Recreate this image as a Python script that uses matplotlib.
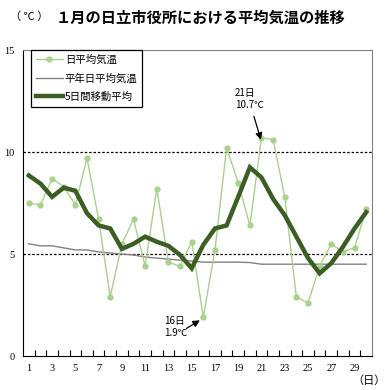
import matplotlib
matplotlib.use('Agg')
import matplotlib.pyplot as plt
import numpy as np

plt.rcParams['font.family'] = ['Noto Sans CJK JP', 'DejaVu Sans']

days = np.arange(1, 31)
daily = [7.5, 7.4, 8.7, 8.3, 7.4, 9.7, 6.7, 2.9, 5.5, 6.7,
         4.4, 8.2, 4.6, 4.4, 5.6, 1.9, 5.2, 10.2, 8.5, 6.4,
         10.7, 10.6, 7.8, 2.9, 2.6, 4.4, 5.5, 5.1, 5.3, 7.2]
normal = [5.5, 5.4, 5.4, 5.3, 5.2, 5.2, 5.1, 5.05, 5.0, 4.95,
          4.85, 4.8, 4.75, 4.7, 4.65, 4.6, 4.6, 4.6, 4.6, 4.58,
          4.5, 4.5, 4.5, 4.5, 4.5, 4.5, 4.5, 4.5, 4.5, 4.5]
moving = [8.85, 8.45, 7.8, 8.25, 8.1, 7.0, 6.4, 6.25, 5.25, 5.5,
          5.85, 5.6, 5.4, 4.95, 4.3, 5.45, 6.25, 6.4, 7.8, 9.25,
          8.75, 7.7, 6.9, 5.85, 4.8, 4.05, 4.55, 5.35, 6.25, 7.05]

fig = plt.figure(figsize=(3.9, 3.9), dpi=100)
ax = fig.add_axes([23 / 390, 1 - 356 / 390, 349 / 390, 306 / 390])

ax.plot(days, daily, color='#a9d18e', linewidth=1, marker='o', markersize=3.5,
        label='日平均気温', zorder=3)
ax.plot(days, normal, color='#808080', linewidth=1, label='平年日平均気温', zorder=2)
ax.plot(days, moving, color='#3b5e25', linewidth=3.2, label='5日間移動平均',
        zorder=4, solid_joinstyle='miter')

for yv in [5, 10]:
    ax.axhline(yv, color='black', linestyle=(0, (2, 1.5)), linewidth=0.9, zorder=1)

ax.set_xlim(0.5, 30.5)
ax.set_ylim(0, 15)

# tick marks at category boundaries, labels at odd days
ax.set_xticks(np.arange(1.5, 30.5, 1))
ax.set_xticklabels([])
ax.tick_params(axis='x', which='major', direction='in', length=4, width=0.8)
ax.set_xticks(days[::2], minor=True)
ax.set_xticklabels([str(d) for d in days[::2]], minor=True,
                   fontfamily='Liberation Serif', fontsize=7.5)
ax.tick_params(axis='x', which='minor', length=0, pad=6)

ax.set_yticks([0, 5, 10, 15])
ax.set_yticklabels(['0', '5', '10', '15'], fontfamily='Liberation Serif', fontsize=7.5)
ax.tick_params(axis='y', length=0, pad=6)

for side in ['top', 'right']:
    ax.spines[side].set_color('#808080')
for side in ['left', 'bottom']:
    ax.spines[side].set_color('black')

leg = ax.legend(loc='upper left', bbox_to_anchor=(0.023, 1.0), borderaxespad=0,
                fancybox=False, edgecolor='black', framealpha=1, fontsize=7.5,
                handlelength=2.6, handletextpad=0.2, borderpad=0.45, labelspacing=0.8)
leg.get_frame().set_linewidth(0.9)

# annotations
ax.text(18.7, 12.6, '21日\n10.7℃', fontsize=7, va='center', ha='left', linespacing=1.3)
ax.annotate('', xy=(20.95, 10.6), xytext=(20.35, 11.75),
            arrowprops=dict(arrowstyle='-|>', color='black', lw=0.9,
                            mutation_scale=10, shrinkA=0, shrinkB=0))
ax.text(12.6, 1.42, '16日\n1.9℃', fontsize=7, va='center', ha='left', linespacing=1.3)
ax.annotate('', xy=(15.7, 1.75), xytext=(14.55, 1.35),
            arrowprops=dict(arrowstyle='-|>', color='black', lw=0.9,
                            mutation_scale=10, shrinkA=0, shrinkB=0))

fig.text(10 / 390, 1 - 17 / 390, '（ ℃ ）', fontsize=8, va='center', ha='left')
fig.text(201 / 390, 1 - 18 / 390, '１月の日立市役所における平均気温の推移',
         fontsize=11, fontweight='bold', va='center', ha='center')
fig.text(386 / 390, 1 - 381 / 390, '（日）', fontsize=8, va='center', ha='right')

fig.savefig('out.png', dpi=100)
plt.close(fig)
